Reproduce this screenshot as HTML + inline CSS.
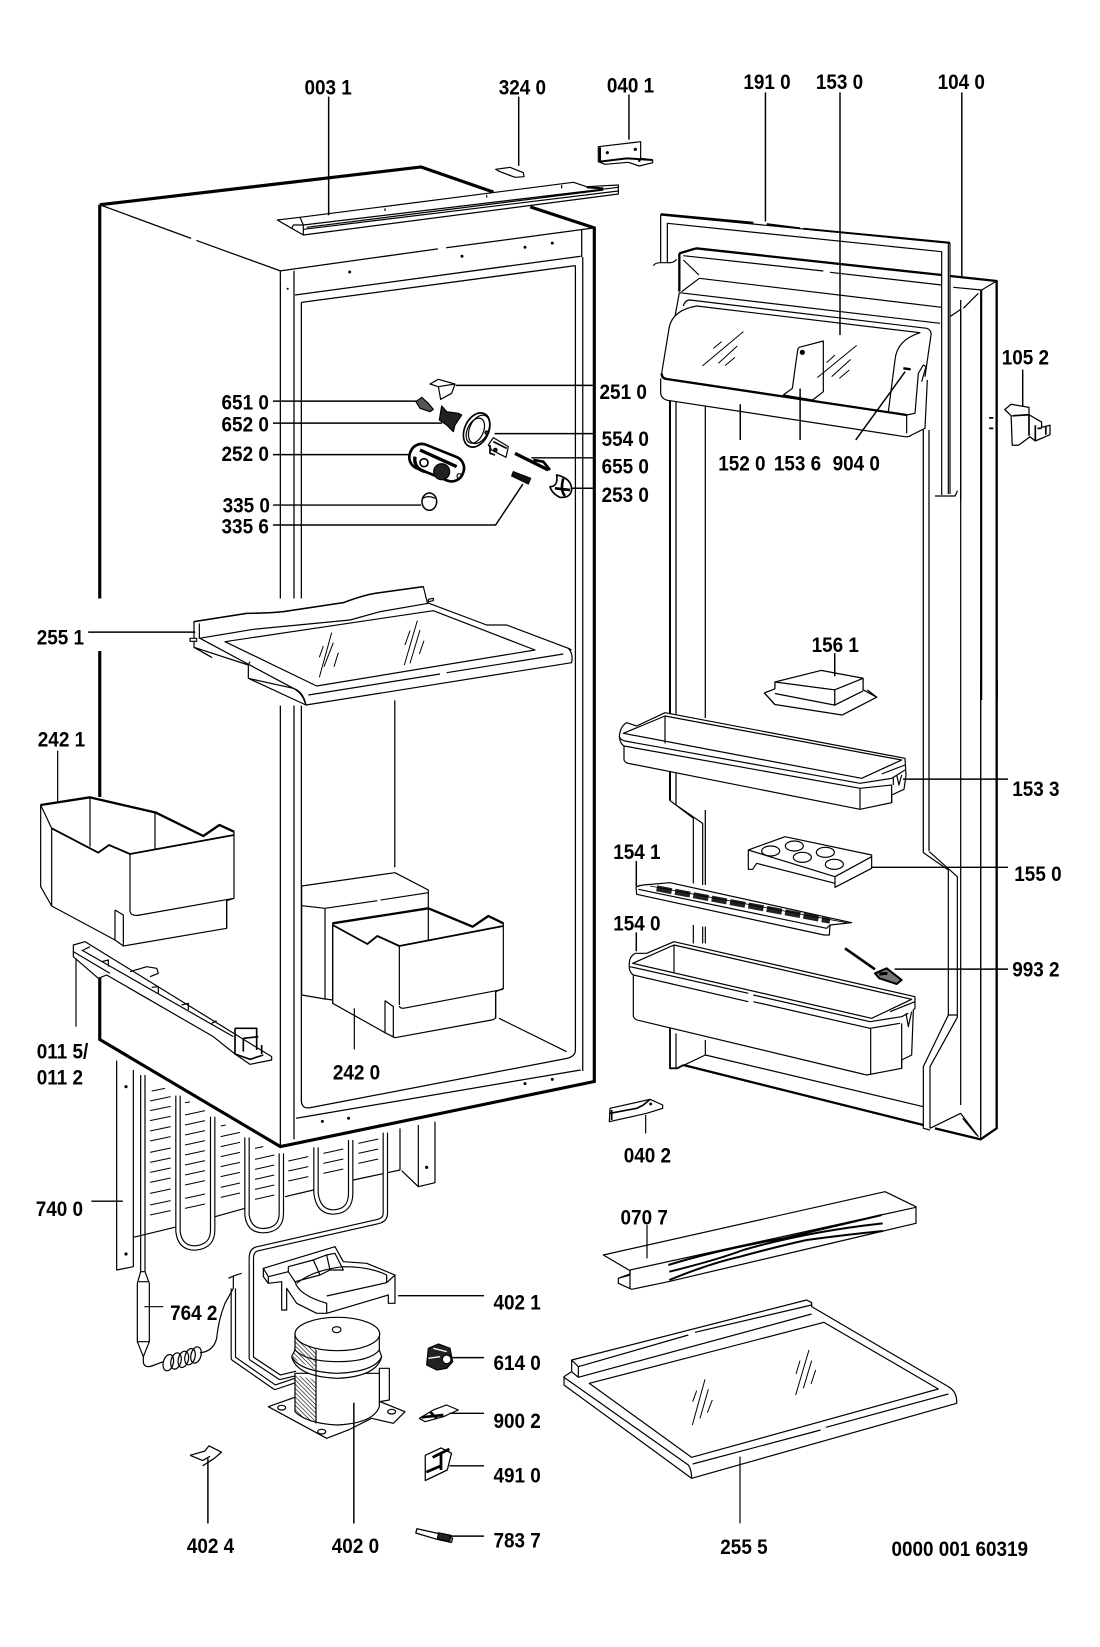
<!DOCTYPE html>
<html><head><meta charset="utf-8"><title>Parts diagram</title>
<style>html,body{margin:0;padding:0;background:#fff}svg{display:block}
text{font-family:"Liberation Sans",sans-serif;font-weight:bold;font-size:20px;fill:#000}
.z{fill:none;stroke:#000;stroke-width:3.6;stroke-linejoin:round}
.d{fill:none;stroke:#000;stroke-width:1.2;stroke-linejoin:round}
.w{fill:#fff}.k{stroke-width:7}.m{stroke-width:5.5}</style></head><body>
<svg xmlns="http://www.w3.org/2000/svg" width="1100" height="1647" viewBox="0 0 1100 1647">
<defs>
<pattern id="h" width="9" height="9" patternUnits="userSpaceOnUse" patternTransform="rotate(45)">
<line x1="0" y1="0" x2="9" y2="0" stroke="#000" stroke-width="3.600"/></pattern>
</defs>

<!-- condenser, tubes -->
<g class="z" transform="translate(100 1040) scale(.33333)">
<path d="M50,62 V690 L100,680 V90"/>
<path d="M100,592 L232,560 M345,530 L435,505 M555,470 L640,450 M760,420 L900,390 V265 M905,392 L955,440 L1005,428 V245 M955,255 V440"/>
<g stroke-width="3"><path d="M155,153 l40,-8 M150,183 l62,-13 M150,212 l62,-13 M150,242 l62,-13 M150,273 l62,-13 M150,303 l62,-13 M150,337 l62,-13 M150,367 l62,-13 M150,397 l62,-13 M150,427 l62,-13 M150,460 l62,-13 M150,495 l62,-13 M150,525 l62,-13
M255,188 l15,-2 M255,225 l60,-13 M255,255 l60,-13 M255,285 l60,-13 M255,315 l60,-13 M255,345 l60,-13 M255,375 l60,-13 M255,405 l60,-13 M255,435 l60,-13 M255,475 l60,-13 M255,505 l60,-13
M362,258 l15,-3 M362,290 l58,-13 M362,320 l58,-13 M362,350 l58,-13 M362,380 l58,-13 M362,410 l58,-13 M362,442 l58,-13 M362,472 l58,-13
M465,325 l25,-5 M465,358 l58,-13 M465,388 l58,-13 M465,418 l58,-13 M465,448 l58,-13 M465,478 l58,-13
M565,363 l60,-13 M565,393 l60,-13 M565,423 l60,-13 M670,340 l60,-13 M670,370 l60,-13 M670,400 l60,-13 M775,310 l60,-13 M775,340 l60,-13 M775,370 l60,-13"/></g>
<circle cx="78" cy="140" r="3" fill="#000"/><circle cx="78" cy="642" r="3" fill="#000"/><circle cx="980" cy="382" r="3" fill="#000"/>
<g stroke-width="16.500"><path d="M234,167 V575 Q240,624 285,624 Q338,620 338,570 V230"/><path d="M441,292 V525 Q447,572 490,572 Q544,570 544,520 V340"/><path d="M648,322 V460 Q655,516 700,516 Q752,514 752,460 V300"/><path d="M856,278 V520 Q856,540 832,545 L470,627 Q454,632 454,655 V955 L540,1012 L590,1000"/><path d="M400,745 V955 L525,1042 L590,1020"/></g>
<g stroke="#fff" stroke-width="9.500"><path d="M234,160 V575 Q240,624 285,624 Q338,620 338,570 V225"/><path d="M441,285 V525 Q447,572 490,572 Q544,570 544,520 V335"/><path d="M648,315 V460 Q655,516 700,516 Q752,514 752,460 V295"/><path d="M856,270 V520 Q856,540 832,545 L470,627 Q454,632 454,655 V955 L540,1012 L590,1000"/><path d="M400,738 V955 L525,1042 L590,1020"/></g>
<path d="M122,105 V695 M135,105 V695"/>
<path d="M122,695 L112,730 V905 L130,950 L148,905 V730 L135,695 Z" class="w"/><path d="M112,905 H148 M116,725 H144"/>
<path d="M133,800 H190"/>
<path d="M130,950 V968 Q135,985 155,978 L190,965"/>
<path d="M300,938 Q340,935 350,895 Q355,840 375,790 L400,745 V710 M385,715 Q405,705 425,700"/>
<g><ellipse cx="205" cy="968" rx="15" ry="25" transform="rotate(15 205 968)"/><ellipse cx="228" cy="963" rx="15" ry="25" transform="rotate(15 228 963)"/><ellipse cx="250" cy="958" rx="15" ry="25" transform="rotate(15 250 958)"/><ellipse cx="270" cy="950" rx="15" ry="25" transform="rotate(15 270 950)"/><ellipse cx="288" cy="945" rx="15" ry="25" transform="rotate(15 288 945)"/></g>
<!-- 402 1 -->
<path class="w" d="M490,685 L705,620 L730,665 L800,670 L885,705 V790 H865 V765 L680,820 L650,820 L590,790 L560,745 V810 H545 V725 L505,730 L490,710 Z"/>
<path d="M490,685 L505,710 V730 M505,710 L565,695 V680 L640,660 L660,705 L585,725 M565,695 L585,725 M680,645 L705,640 L730,690 L690,690 Z M585,725 Q595,765 680,790 V820 M680,768 L860,728 L885,705 M590,730 Q640,690 730,680 Q810,680 860,705 V728 M640,660 L680,645 M660,705 L690,690"/>
<!-- compressor -->
<path class="w" d="M505,1100 L590,1070 L840,1085 L915,1115 L880,1150 L815,1135 L745,1170 L680,1195 Z"/>
<ellipse cx="545" cy="1103" rx="12" ry="7"/><ellipse cx="665" cy="1175" rx="12" ry="7"/><ellipse cx="875" cy="1115" rx="12" ry="7"/>
<path class="w" d="M838,985 H868 V1080 L838,1085 Z"/>
<path class="w" d="M585,1000 V1115 Q620,1150 710,1155 Q820,1150 838,1100 V1000 Z"/>
<path class="w" d="M585,880 V930 L575,950 Q590,1010 712,1015 Q830,1010 845,950 L838,930 V880 Z"/>
<ellipse class="w" cx="712" cy="882" rx="127" ry="50"/><ellipse cx="710" cy="869" rx="13" ry="9"/>
<path d="M585,900 L648,925 V990 L578,955 Z M585,1005 L648,1020 V1150 Q605,1135 585,1115 Z" fill="url(#h)" stroke="none"/>
<path d="M648,930 V1150 M585,930 Q620,965 712,965 Q810,965 838,930 M575,950 Q600,995 712,1000 Q825,995 845,950"/>
<!-- 614 0 / 900 2 -->
<path d="M985,925 L1015,912 L1050,925 L1058,965 L1040,985 L1010,990 L980,975 Z" fill="#222"/><circle cx="1040" cy="958" r="13" fill="#fff"/><path d="M1000,925 L1040,935 M985,955 L1020,950" stroke="#fff" stroke-width="4"/>
<path class="w" d="M958,1135 L1000,1110 L1040,1095 L1075,1110 L1030,1130 L975,1145 Z"/><path d="M965,1132 L1030,1125 M990,1115 L1010,1135" stroke-width="8"/>
</g>

<!-- cabinet -->
<g class="d" transform="scale(1.05)">
<polygon points="95,195 401,159 566,217 566,1030 267,1092 95,960" fill="#fff" stroke="none"/>
<path d="M95,195 L182,227 M187,229 L267,258 L417,237 M425,236 L566,217"/>
<path d="M267,258 V570 M267,672 V1092 M280,258 V570 M280,672 V1085"/>
<path d="M281,281 L553,244 M287,288 L548,253"/>
<path d="M287,288 V570 M287,672 V1048 Q287,1056 295,1055 L540,1008 Q548,1006 548,1000 V253"/>
<path d="M282,1065 L553,1019 M555,245 V1020 M554,219 V245"/>
<path d="M376,667 V826"/>
<g fill="#000" stroke="none"><circle cx="333" cy="259" r="1.4"/><circle cx="440" cy="244" r="1.4"/><circle cx="500" cy="235.500" r="1.4"/><circle cx="526" cy="231.500" r="1.4"/><circle cx="274" cy="275" r="1"/><circle cx="307" cy="1068" r="1.4"/><circle cx="332" cy="1065" r="1.4"/><circle cx="500" cy="1032" r="1.4"/><circle cx="526" cy="1028" r="1.4"/></g>
<path d="M95,195 L401,159 L470,183 M505,197 L566,217 V1030 L267,1092 L95,990 V931 M95,195 V570 M95,620 V759" stroke-width="3" stroke-linejoin="miter"/>
</g>

<!-- top rail etc -->
<g class="z" transform="translate(270 130) scale(.33333)">
<path class="w" d="M22,270 L90,262 L910,157 L950,170 L1045,165 V192 L100,315 L65,295 Z"/>
<path d="M90,262 L100,285 L1045,172 M100,285 V315 M100,298 L1045,183 M65,295 L70,285 L100,285 M110,292 L1000,180 M345,235 V243 M650,195 V203 M875,165 V175"/>
<path d="M950,172 L1000,175" stroke-width="6"/>
<path class="w" d="M677,118 L720,112 L760,128 L762,140 L735,142 L690,125 Z"/>
<path class="w" d="M985,50 L1112,35 V85 L1148,90 V98 L1108,108 L1075,97 L1005,103 L985,95 Z"/>
<path d="M990,52 V95 L1070,85 L1148,90" stroke-width="6"/>
<circle cx="1012" cy="68" r="3" fill="#000"/><circle cx="1096" cy="58" r="3" fill="#000"/><circle cx="1108" cy="92" r="2" fill="#000"/>
</g>

<!-- small central parts -->
<g class="z" transform="translate(400 370) scale(.33333)">
<path class="w" d="M90,42 L115,28 L165,42 L155,70 L122,88 L115,50 Z"/><path d="M115,50 L165,42"/>
<path d="M48,95 L65,82 L85,100 L100,118 L90,125 L60,115 Z" fill="#555"/>
<path d="M118,150 L125,108 L140,125 L175,130 L185,135 L165,165 L160,185 L140,165 Z" fill="#222"/>
<ellipse class="w" cx="230" cy="180" rx="36" ry="54" transform="rotate(25 230 180)" stroke-width="5"/><ellipse cx="237" cy="178" rx="28" ry="45" transform="rotate(25 237 178)"/><ellipse cx="226" cy="182" rx="24" ry="40" transform="rotate(25 226 182)"/><circle cx="260" cy="188" r="5" fill="#333"/>
<path class="w" d="M265,225 L280,203 L325,230 L318,262 L275,240 Z"/><path d="M280,215 L320,235 M270,225 V250 L285,255" stroke-width="5"/><circle cx="286" cy="240" r="5" fill="#222"/>
<path d="M345,250 L445,300" stroke-width="10"/><path d="M400,270 L430,275 L450,300" stroke-width="8"/>
<path d="M470,315 Q515,325 515,360 Q510,385 480,382 Q455,370 450,350 Q475,350 470,315 Z" class="w" stroke-width="5"/><path d="M490,325 Q480,360 495,378 M465,355 L510,360" stroke-width="8"/>
<rect x="25" y="240" width="170" height="76" rx="36" transform="rotate(22 110 278)" class="w" stroke-width="8"/>
<path d="M60,240 L170,290" stroke-width="10"/><circle cx="72" cy="278" r="12" stroke-width="5"/><circle cx="125" cy="305" r="24" fill="#222"/><circle cx="178" cy="318" r="7"/><path d="M45,260 Q40,295 75,305" stroke-width="10"/>
<ellipse class="w" cx="88" cy="395" rx="22" ry="26" stroke-width="4.500"/><path d="M68,385 Q85,375 105,385"/>
<path d="M340,305 L392,325 L385,342 L335,318 Z" fill="#111"/>
</g>

<!-- shelf 255 1 -->
<g class="z" transform="translate(180 570) scale(.33333)">
<path class="w" d="M42,155 L200,130 Q260,130 310,125 L490,98 Q560,72 600,68 L730,50 L742,98 L920,165 H980 L1165,235 Q1180,250 1175,278 L378,405 L370,385 Q360,365 340,355 L205,325 V285 L42,232 Z"/>
<path d="M42,155 L200,130 Q260,130 310,125 L490,98 Q560,72 600,68 L730,50" stroke-width="4.500"/>
<path d="M42,232 L95,262 L70,248 M205,285 L210,275 M205,325 L378,405 M58,160 V205 L220,178 L510,150 L600,125 L745,100 M60,205 L340,355 Q370,365 378,405"/>
<path d="M135,215 L760,122 L1065,240 L410,348 Z"/>
<path d="M385,375 L780,312 M800,308 L1150,252 M1165,235 L1175,240"/>
<path d="M30,205 L50,205 V214 L30,214 Z M745,88 L760,85 V92 L745,95 Z" class="w"/>
<path d="M418,262 L430,228 M418,322 L455,188 M432,290 L460,218 M462,290 L475,248 M675,225 L690,182 M673,285 L712,152 M690,280 L720,180 M718,252 L732,212" stroke-width="3"/>
</g>

<!-- bin 242 1 + rail -->
<g class="z" transform="translate(30 780) scale(.33333)">
<path class="w" d="M32,75 L180,52 L378,98 L520,168 L568,135 L612,155 V355 L590,362 V445 L280,498 L255,480 L65,378 L32,320 Z"/>
<path class="k" d="M32,75 L180,52 L378,98 L520,168 L568,135 L612,155"/>
<path class="m" d="M65,145 L205,218 L237,195 L300,222 L612,165"/>
<path d="M32,75 L65,145 M180,52 V200 M375,98 V207 M65,145 V378 M300,222 V395 Q305,410 330,405 L612,355 M255,390 L280,405 V498 M255,390 V482 M590,362 V445"/>
<path d="M83,-88 V70 M138,530 V740"/>
<path class="w" d="M130,495 L165,485 L725,830 V840 L660,853 L615,822 L550,770 L230,585 L205,595 L130,530 Z"/>
<path d="M130,515 L240,580 M155,510 L610,770 M160,510 L180,500 M215,545 L235,540 V560 M300,575 L350,560 L380,565 L385,580 L360,590 M365,622 L385,620 V640 M455,675 L475,670 V690 M545,730 L560,722"/>
<path d="M615,745 L680,745 V810 M640,775 V815 M615,745 V822 L660,838 L700,825 M640,775 L685,770 M695,795 V822" stroke-width="5"/>
</g>

<!-- box + bin 242 0 -->
<g class="z" transform="translate(290 860) scale(.33333)">
<path class="w" d="M35,78 L315,38 L415,90 V240 H130 V420 L105,417 L35,405 Z"/>
<path d="M35,137 L105,145 V417 M105,145 L262,122 M272,120 L415,98"/>
<path class="w" d="M128,190 L415,145 L548,200 L595,168 L640,190 V385 L617,395 V470 Q617,478 605,480 L315,533 L285,518 L128,430 Z"/>
<path class="k" d="M128,190 L415,145 L548,200 L595,168 L640,190"/>
<path class="m" d="M128,195 L232,252 L262,228 L328,258 L640,198"/>
<path d="M415,145 V240 M328,258 V435 M128,195 V430 M285,422 L310,440 V533 M285,422 V520 M328,438 Q330,448 350,443 L640,388 M617,395 V475 M627,475 L830,575"/>
<path d="M193,445 V568"/>
</g>

<!-- door upper -->
<g class="z" style="stroke-width:1.25">
<path d="M670,400 V800 M676,400 V805 M705.300,400 V718 M705.300,810 V885 M923.300,430 V853 M929,430 V851 M960.700,300 V1105 M980.700,290 V1135"/>
<path d="M670,400 V800" stroke-width="2"/>
</g>
<g class="z" transform="translate(620 200) scale(.33333)">
<path class="k" d="M228,145 L965,225 M990,228 L1130,243 V1500 M178,160 L228,145 M178,160 V275"/>
<path d="M190,167 L610,213 M630,217 L965,255 M190,180 L237,225 M238,235 L965,322 M185,275 L238,235 M178,278 L960,370 M178,278 L165,350"/>
<path d="M1000,262 L1085,270 L1130,243 M1085,270 V1500 M1075,280 L1030,325 M990,350 L1022,328 V900"/>
<path d="M122,188 V45 L990,130 V882 M142,188 V70 L965,155 V885 M985,130 V882 M100,197 Q105,188 122,188 H142 Q160,190 170,178 M945,888 H1005 Q1010,880 1012,872"/>
<path class="m" d="M122,42 L400,68 M440,72 L540,85 M550,86 L990,128"/>
<path class="w" d="M125,520 L148,380 Q160,330 230,318 L900,398 L933,405 L915,530 L905,545 L922,540 L915,685 L875,705 Q865,712 855,710 L150,602 Q125,600 122,580 V535 Z" stroke="none"/>
<path d="M190,318 Q195,300 210,300 L920,385 Q935,390 933,405 L915,530 M125,520 L148,380 Q160,330 230,318 L900,398 Q830,420 825,480 L805,635"/>
<path d="M122,535 V580 Q125,600 150,602 L855,710 Q865,712 875,705 L915,685 L922,540 M860,645 V700 M860,645 L885,640 L895,520 L910,495 L918,500 L905,545"/>
<path class="w" d="M490,585 L517,565 L533,450 Q535,440 545,440 L610,423 V575 L578,600 Z"/>
<path class="k" d="M125,520 Q125,535 140,537 L860,645"/>
<circle cx="547" cy="457" r="6" fill="#000"/><path d="M850,505 L872,508" stroke-width="7"/>
<path d="M247,498 L370,395 M280,445 L305,425 M295,490 L352,438 M315,497 L345,472 M592,533 L710,436 M620,488 L645,465 M635,530 L692,478 M658,535 L688,510" stroke-width="3"/>
</g>

<!-- door lower -->
<g class="z" transform="translate(600 680) scale(.33333)">
<path d="M208,360 L280,415 V610 M228,375 L308,430 V615 M280,735 V790 M308,740 V790 M316,740 V790"/>
<path class="m" d="M210,1045 V1165 H232 L250,1155"/>
<path d="M228,1060 V1165 M316,1080 V1125 L970,1280 M316,1125 L232,1165"/>
<path class="k" d="M250,1155 L970,1335 M1005,1345 L1142,1378 L1190,1345 V0"/>
<path d="M970,518 L1045,570 V1005 M988,515 L1072,590 V1012 L990,1160 V1345 M1045,1005 L970,1160 V1345 L990,1350 M1045,1005 H1072 M990,1345 L1082,1300 L1135,1370 M1088,1315 L1130,1365 M1142,1378 V0"/>
<!-- 153 3 -->
<path class="w" d="M58,170 Q60,140 80,128 L110,138 L195,98 L915,235 L918,285 L912,328 L875,345 V368 L780,388 L95,252 Q75,250 72,240 V198 Q60,190 58,170 Z"/>
<path d="M70,160 L195,108 L905,240 L785,295 Z M58,170 Q62,180 75,183 L780,310 L875,295 L915,270 M72,198 L780,325 L875,315 M195,108 V190 M780,325 V388 M845,282 L915,255 M875,315 V368 M880,290 V315 M890,285 L897,315 L905,285"/>
<!-- 155 0 -->
<path class="w" d="M445,510 L555,470 L815,525 V565 L705,622 V610 L470,550 L458,568 H445 Z"/>
<path d="M445,510 L705,590 L815,530 M705,590 V610"/>
<ellipse cx="512" cy="513" rx="27" ry="15"/><ellipse cx="583" cy="498" rx="27" ry="15"/><ellipse cx="607" cy="532" rx="27" ry="15"/><ellipse cx="676" cy="517" rx="27" ry="15"/><ellipse cx="703" cy="553" rx="27" ry="15"/>
<!-- 154 1 -->
<path class="w" d="M108,622 Q110,618 130,615 L210,608 L755,728 L690,735 L688,765 L672,765 L110,643 Z"/>
<path d="M115,628 L680,745 L690,735"/>
<path d="M170,625 L690,722" stroke-width="18" stroke-dasharray="46 10" stroke="#222"/>
<path d="M150,618 L740,728" stroke-width="2.500"/>
<!-- 993 2 -->
<path d="M735,805 L825,868" stroke-width="8"/><path d="M825,880 L860,865 L905,900 L890,912 L838,895 Z" fill="#777" stroke-width="6"/><path d="M838,882 L862,880" stroke-width="9"/>
<!-- 154 0 -->
<path class="w" d="M88,850 Q88,830 105,820 L140,820 L222,785 L945,950 L945,985 L940,990 L935,1125 L905,1140 V1165 L800,1185 L120,1022 Q105,1020 100,1010 V885 Q85,875 88,850 Z"/>
<path d="M98,850 L222,795 L935,958 L815,1015 Z M90,860 L445,940 M460,945 L810,1025 L905,1010 M100,885 L445,965 M460,965 L810,1045 L900,1030 M222,795 V880 M812,1045 V1185 M905,1030 V1165 M870,995 L945,965 M905,1010 L925,1000 M918,1000 L925,1040 L935,995"/>
<!-- 040 2 -->
<path class="w" d="M30,1285 L150,1258 L188,1275 V1285 L140,1300 L28,1325 Z"/>
<path d="M35,1290 V1320 M30,1300 L110,1285 L130,1275 L150,1258" stroke-width="5"/><circle cx="152" cy="1272" r="2.500" fill="#000"/>
<path d="M137,1305 V1360"/>
</g>

<!-- 070 7 + glass shelf -->
<g class="z" transform="translate(550 1170) scale(.33333)">
<path class="w" d="M160,255 L1005,65 L1098,110 V160 L1000,183 L355,335 L245,358 L205,340 V325 L240,312 V302 Z"/>
<path d="M240,300 L1098,112 M240,300 V355 M205,325 L240,315"/>
<path d="M355,285 Q500,240 700,205 Q850,170 995,135 M358,305 Q500,270 580,240 Q770,185 998,160 M358,330 Q480,280 570,260 Q700,225 770,210 Q880,195 998,183" stroke-width="6"/>
<path d="M291,165 V265"/>
<path class="w" d="M42,620 L65,605 V570 L770,390 L785,398 V410 L1195,650 Q1222,665 1220,700 L425,925 L42,645 Z"/>
<path d="M85,622 V590 L415,495 M435,487 L785,405 M85,622 L785,432 M65,570 L85,590 M65,605 L85,622 M42,622 L415,885 Q425,900 425,925"/>
<path d="M118,640 L822,457 L1165,657 L425,862 Z"/>
<path d="M428,882 L812,780 M828,772 L1195,672"/>
<path d="M428,695 L440,662 M427,765 L465,628 M450,745 L475,658 M472,728 L487,690 M738,612 L750,572 M737,675 L777,540 M760,655 L785,572 M783,642 L797,600" stroke-width="3"/>
<path d="M570,860 V1060"/>
</g>

<!-- remaining parts + leaders, in base units -->
<g class="d" transform="scale(1.05)">
<path d="M957,390 L963,385 L980,388 V395 L992,402 V407 L1000,405 V414 L986,420 L981,416 L970,424 L964,424 L963,396 Z" fill="#fff"/>
<path d="M964,396 L980,395 V415 M986,405 V420 M988,408 H992 M996,406 V414 M942,398 H946 M942,408 H946" stroke-width="1.6"/>
<path d="M728,660 L738,656 V649.500 L782,638.500 L822,646 V657 L835,664 L802,681 L738,671 Z" fill="#fff"/>
<path d="M738,649.500 L795,657 L822,646 M795,657 V671.500 M738,660.500 L795,671.500 L822,658 M728,660 L738,671 M835,664 L826,657"/>
<path d="M405,1386 L420,1379 L430,1384 L426,1400 L405,1410 Z" fill="#fff"/><path d="M412,1388 L428,1380 M420,1385 V1400 M406,1402 L420,1396" stroke-width="2.6"/>
<path d="M397,1456 L420,1461 L431,1465 L430,1469 L416,1466 L396,1460 Z" fill="#fff"/><rect x="417" y="1461" width="12" height="6" fill="#222" transform="rotate(12 423 1464)"/>
<path d="M181,1386 L195,1382 L199,1377 L211,1383 L204,1389 L193,1396 M181,1386 L193,1391 L200,1387"/>
<path d="M313,92 V205 M494,92 V158 M599,90 V133 M729,88 V211 M800,88 V319 M916,88 V265 M974,352 V387 M705,385 V419 M762,370 V419 M815,419 L862,354
M434,367 H566 M260,382 H397 M260,403 H421 M260,433 H391 M471,413 H566 M506,436 H566 M544,465 H566 M260,481 H401 M260,500 H472 L498,461
M795,622 V644 M84,602 H186 M860,742 H960 M830,826 H960 M606,820 V844 M606,888 V906 M852,923 H960 M87,1144 H117 M379,1234 H461 M431,1293 H461 M428,1346 H461 M428,1396 H461 M428,1463 H461 M198,1389 V1451 M337,1336 V1451" stroke-width="1.4"/>
</g>

<!-- labels -->
<g transform="scale(1.05)">
<text transform="translate(290 90) scale(.9 1)">003 1</text>
<text transform="translate(475 90) scale(.9 1)">324 0</text>
<text transform="translate(578 88) scale(.9 1)">040 1</text>
<text transform="translate(708 85) scale(.9 1)">191 0</text>
<text transform="translate(777 85) scale(.9 1)">153 0</text>
<text transform="translate(893 85) scale(.9 1)">104 0</text>
<text transform="translate(954 347) scale(.9 1)">105 2</text>
<text transform="translate(571 380) scale(.9 1)">251 0</text>
<text transform="translate(211 390) scale(.9 1)">651 0</text>
<text transform="translate(211 411) scale(.9 1)">652 0</text>
<text transform="translate(211 439) scale(.9 1)">252 0</text>
<text transform="translate(573 425) scale(.9 1)">554 0</text>
<text transform="translate(573 451) scale(.9 1)">655 0</text>
<text transform="translate(573 478) scale(.9 1)">253 0</text>
<text transform="translate(212 488) scale(.9 1)">335 0</text>
<text transform="translate(211 508) scale(.9 1)">335 6</text>
<text transform="translate(684 448) scale(.9 1)">152 0</text>
<text transform="translate(737 448) scale(.9 1)">153 6</text>
<text transform="translate(793 448) scale(.9 1)">904 0</text>
<text transform="translate(773 621) scale(.9 1)">156 1</text>
<text transform="translate(35 614) scale(.9 1)">255 1</text>
<text transform="translate(36 711) scale(.9 1)">242 1</text>
<text transform="translate(964 758) scale(.9 1)">153 3</text>
<text transform="translate(966 839) scale(.9 1)">155 0</text>
<text transform="translate(584 818) scale(.9 1)">154 1</text>
<text transform="translate(584 886) scale(.9 1)">154 0</text>
<text transform="translate(964 930) scale(.9 1)">993 2</text>
<text transform="translate(35 1008) scale(.9 1)">011 5/</text>
<text transform="translate(35 1033) scale(.9 1)">011 2</text>
<text transform="translate(317 1028) scale(.9 1)">242 0</text>
<text transform="translate(594 1107) scale(.9 1)">040 2</text>
<text transform="translate(34 1158) scale(.9 1)">740 0</text>
<text transform="translate(591 1166) scale(.9 1)">070 7</text>
<text transform="translate(162 1257) scale(.9 1)">764 2</text>
<text transform="translate(470 1247) scale(.9 1)">402 1</text>
<text transform="translate(470 1305) scale(.9 1)">614 0</text>
<text transform="translate(470 1360) scale(.9 1)">900 2</text>
<text transform="translate(470 1412) scale(.9 1)">491 0</text>
<text transform="translate(470 1474) scale(.9 1)">783 7</text>
<text transform="translate(178 1479) scale(.9 1)">402 4</text>
<text transform="translate(316 1479) scale(.9 1)">402 0</text>
<text transform="translate(686 1480) scale(.9 1)">255 5</text>
<text transform="translate(849 1482) scale(.9 1)">0000 001 60319</text>
</g>
</svg>
</body></html>
